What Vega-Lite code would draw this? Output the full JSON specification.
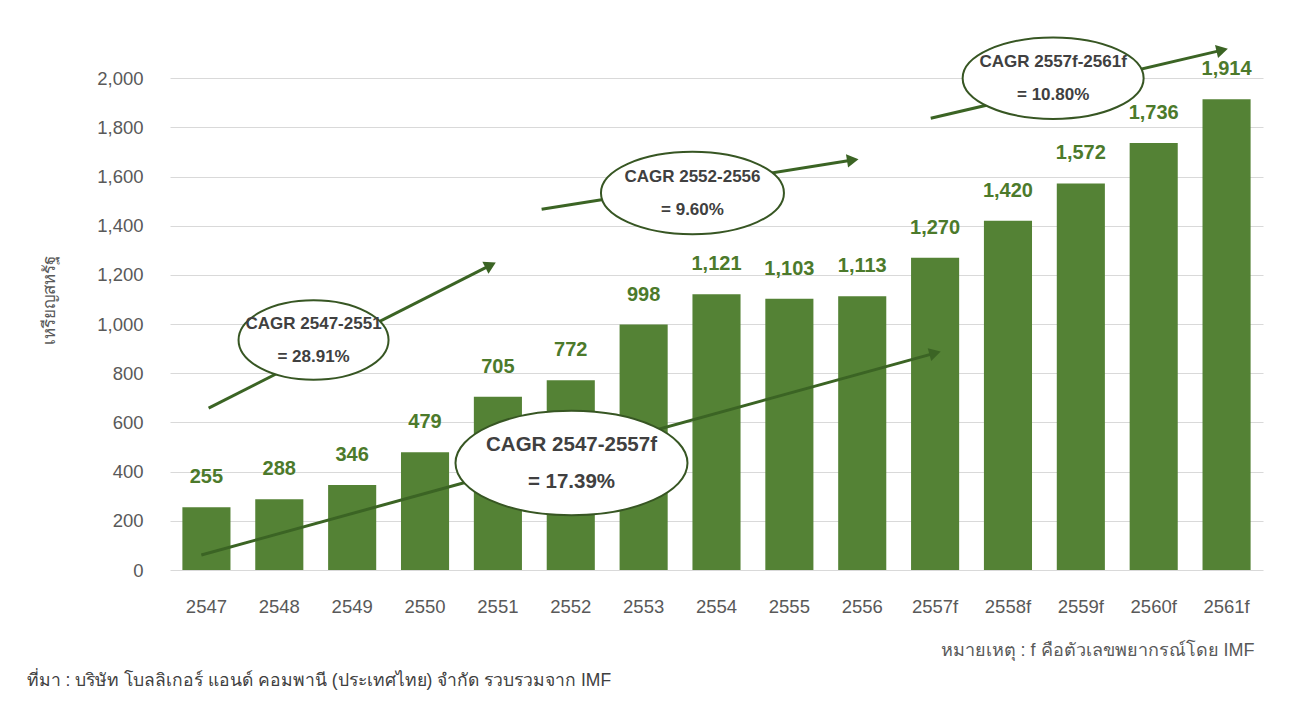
{
  "$schema": "https://vega.github.io/schema/vega-lite/v6.json",
  "width": 1093,
  "height": 541,
  "autosize": {"type": "none"},
  "padding": {"left": 170, "top": 29, "right": 30, "bottom": 136},
  "background": "white",
  "config": {
    "font": "Liberation Sans, Arial, Noto Sans, DejaVu Sans",
    "view": {"stroke": null}
  },
  "title": {
    "text": "ที่มา : บริษัท โบลลิเกอร์ แอนด์ คอมพานี (ประเทศไทย) จำกัด รวบรวมจาก IMF",
    "orient": "bottom",
    "anchor": "start",
    "frame": "bounds",
    "dx": -14,
    "offset": 12,
    "fontSize": 17.5,
    "fontWeight": "normal",
    "color": "#404040"
  },
  "datasets": {
    "bars": [
      {"year": "2547", "value": 255},
      {"year": "2548", "value": 288},
      {"year": "2549", "value": 346},
      {"year": "2550", "value": 479},
      {"year": "2551", "value": 705},
      {"year": "2552", "value": 772},
      {"year": "2553", "value": 998},
      {"year": "2554", "value": 1121},
      {"year": "2555", "value": 1103},
      {"year": "2556", "value": 1113},
      {"year": "2557f", "value": 1270},
      {"year": "2558f", "value": 1420},
      {"year": "2559f", "value": 1572},
      {"year": "2560f", "value": 1736},
      {"year": "2561f", "value": 1914}
    ],
    "arrows": [
      {"id": "a1", "pt": 0, "xi": 0.03, "value": 658},
      {"id": "a1", "pt": 1, "xi": 3.9, "value": 1240},
      {"id": "a2", "pt": 0, "xi": 4.6, "value": 1467},
      {"id": "a2", "pt": 1, "xi": 8.87, "value": 1667},
      {"id": "a3", "pt": 0, "xi": 9.94, "value": 1837},
      {"id": "a3", "pt": 1, "xi": 13.94, "value": 2114},
      {"id": "a4", "pt": 0, "xi": -0.07, "value": 61},
      {"id": "a4", "pt": 1, "xi": 10.0, "value": 882}
    ],
    "ellipses": [
      {"id": "a1", "xi": 1.47, "value": 935, "label": "CAGR 2547-2551\n= 28.91%"},
      {"id": "a2", "xi": 6.67, "value": 1533, "label": "CAGR 2552-2556\n= 9.60%"},
      {"id": "a3", "xi": 11.62, "value": 2000, "label": "CAGR 2557f-2561f\n= 10.80%"},
      {"id": "a4", "xi": 5.01, "value": 435, "label": "CAGR 2547-2557f\n= 17.39%"}
    ]
  },
  "layer": [
    {
      "data": {"name": "bars"},
      "layer": [
        {
          "mark": {"type": "bar", "color": "#548235"},
          "encoding": {
            "x": {
              "field": "year",
              "type": "nominal",
              "sort": null,
              "scale": {"paddingInner": 0.34, "paddingOuter": 0.17},
              "axis": {
                "labelAngle": 0,
                "labelFontSize": 18.5,
                "labelColor": "#595959",
                "labelPadding": 27,
                "domain": false,
                "ticks": false,
                "title": "หมายเหตุ : f คือตัวเลขพยากรณ์โดย IMF",
                "titleAnchor": "end",
                "titleFontSize": 18,
                "titleFontWeight": "normal",
                "titleColor": "#595959",
                "titlePadding": 26,
                "titleX": 1084
              }
            },
            "y": {
              "field": "value",
              "type": "quantitative",
              "scale": {"domain": [0, 2200], "nice": false},
              "axis": {
                "values": [0, 200, 400, 600, 800, 1000, 1200, 1400, 1600, 1800, 2000],
                "format": ",.0f",
                "grid": true,
                "gridColor": "#d9d9d9",
                "domain": false,
                "ticks": false,
                "labelFontSize": 18.5,
                "labelColor": "#595959",
                "labelPadding": 27,
                "title": "เหรียญสหรัฐ",
                "titleFontSize": 17,
                "titleFontWeight": "normal",
                "titleColor": "#595959",
                "titlePadding": 38
              }
            }
          }
        },
        {
          "mark": {"type": "text", "fontWeight": "bold", "fontSize": 20, "color": "#4C7A2B", "dy": -30, "baseline": "middle"},
          "encoding": {
            "x": {"field": "year", "type": "nominal", "sort": null},
            "y": {"field": "value", "type": "quantitative"},
            "text": {"field": "value", "type": "quantitative", "format": ","}
          }
        }
      ]
    },
    {
      "layer": [
        {
          "data": {"name": "arrows"},
          "mark": {"type": "line", "color": "#3B6424", "strokeWidth": 3},
          "encoding": {
            "x": {"field": "xi", "type": "quantitative", "scale": {"domain": [-0.5, 14.5], "nice": false, "zero": false}, "axis": null},
            "y": {"field": "value", "type": "quantitative"},
            "detail": {"field": "id"},
            "order": {"field": "pt"}
          }
        },
        {
          "data": {"name": "ellipses"},
          "mark": {"type": "point", "filled": true, "fill": "white", "stroke": "#375623", "strokeWidth": 2, "opacity": 1, "fillOpacity": 1},
          "encoding": {
            "x": {"field": "xi", "type": "quantitative"},
            "y": {"field": "value", "type": "quantitative"},
            "shape": {
              "condition": {"test": "datum.id == 'a1'", "value": "M -1 0 A 1 0.53 0 1 1 1 0 A 1 0.53 0 1 1 -1 0 Z"},
              "value": "M -1 0 A 1 0.45 0 1 1 1 0 A 1 0.45 0 1 1 -1 0 Z"
            },
            "size": {
              "condition": [
                {"test": "datum.id == 'a1'", "value": 22500},
                {"test": "datum.id == 'a2'", "value": 33489},
                {"test": "datum.id == 'a3'", "value": 32761}
              ],
              "value": 53824
            }
          }
        },
        {
          "data": {"name": "ellipses"},
          "transform": [{"filter": "datum.id != 'a4'"}],
          "mark": {"type": "text", "fontWeight": "bold", "fontSize": 17, "color": "#404040", "lineBreak": "\n", "lineHeight": 33, "baseline": "middle", "dy": -16},
          "encoding": {
            "x": {"field": "xi", "type": "quantitative"},
            "y": {"field": "value", "type": "quantitative"},
            "text": {"field": "label"}
          }
        },
        {
          "data": {"name": "ellipses"},
          "transform": [{"filter": "datum.id == 'a4'"}],
          "mark": {"type": "text", "fontWeight": "bold", "fontSize": 20.5, "color": "#404040", "lineBreak": "\n", "lineHeight": 37, "baseline": "middle", "dy": -18},
          "encoding": {
            "x": {"field": "xi", "type": "quantitative"},
            "y": {"field": "value", "type": "quantitative"},
            "text": {"field": "label"}
          }
        },
        {
          "data": {"name": "arrows"},
          "transform": [{"filter": "datum.pt == 1"}],
          "mark": {"type": "point", "shape": "triangle-right", "filled": true, "color": "#3B6424", "opacity": 1, "size": 180},
          "encoding": {
            "x": {"field": "xi", "type": "quantitative"},
            "y": {"field": "value", "type": "quantitative"},
            "angle": {
              "condition": [
                {"test": "datum.id == 'a1'", "value": 333},
                {"test": "datum.id == 'a2'", "value": 351},
                {"test": "datum.id == 'a3'", "value": 347}
              ],
              "value": 345
            }
          }
        }
      ]
    }
  ],
  "resolve": {"scale": {"x": "independent"}}
}
